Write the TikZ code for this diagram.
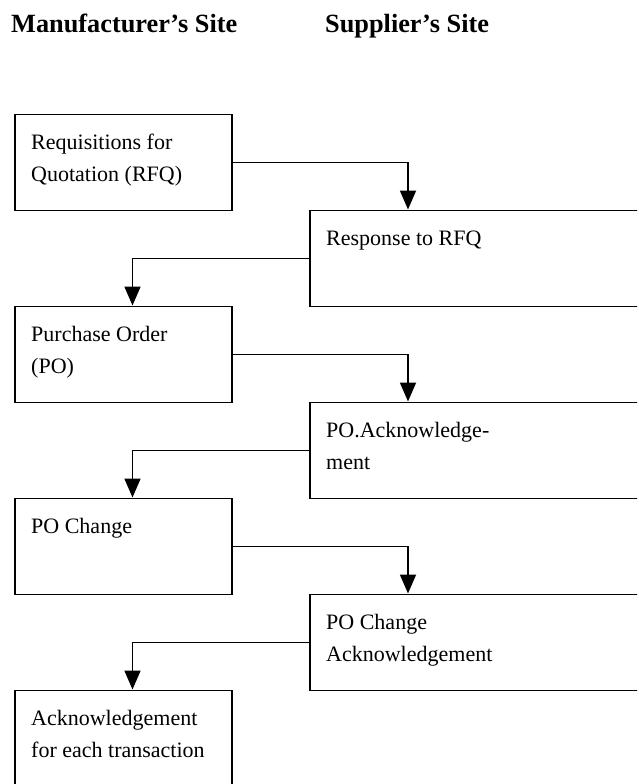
\documentclass[tikz,border=0pt]{standalone}
\usepackage{fontspec}
\setmainfont{Liberation Serif}
\usetikzlibrary{arrows.meta}
\begin{document}
\begin{tikzpicture}[x=1pt,y=-1pt,
  box/.style={draw, line width=1.8pt, minimum width=217pt, minimum height=96pt, inner sep=0, anchor=north west},
  wbox/.style={box, minimum width=360pt},
  txt/.style={anchor=north west, inner sep=0, align=left, font=\fontsize{22}{32}\selectfont},
  head/.style={anchor=base west, inner sep=0, font=\fontsize{26.3}{30}\selectfont\bfseries},
  arr/.style={line width=1.8pt, -{Triangle[length=19pt,width=16pt]}}]
\useasboundingbox (0,0) rectangle (637,784);
\clip (0,0) rectangle (637,784);
\node[head] (h1) at (11,33) {Manufacturer’s Site};
\node[head] (h2) at (325,33) {Supplier’s Site};
\node[box]  (b1) at (14,113.5) {};
\node[wbox] (b2) at (309,209.5) {};
\node[box]  (b3) at (14,305.5) {};
\node[wbox] (b4) at (309,401.5) {};
\node[box]  (b5) at (14,497.5) {};
\node[wbox] (b6) at (309,593.5) {};
\node[box]  (b7) at (14,689.5) {};
\node[txt] (t1) at (31,127) {\strut Requisitions for\\Quotation (RFQ)};
\node[txt] (t2) at (326,223) {\strut Response to RFQ};
\node[txt] (t3) at (31,319) {\strut Purchase Order\\(PO)};
\node[txt] (t4) at (326,415) {\strut PO.Acknowledge-\\ment};
\node[txt] (t5) at (31,511) {\strut PO Change};
\node[txt] (t6) at (326,607) {\strut PO Change\\Acknowledgement};
\node[txt] (t7) at (31,703) {\strut Acknowledgement\\for each transaction};
\draw[arr] (b1.east) -| ([xshift=99pt]b2.north west);
\draw[arr] (b2.west) -| ([xshift=118.5pt]b3.north west);
\draw[arr] (b3.east) -| ([xshift=99pt]b4.north west);
\draw[arr] (b4.west) -| ([xshift=118.5pt]b5.north west);
\draw[arr] (b5.east) -| ([xshift=99pt]b6.north west);
\draw[arr] (b6.west) -| ([xshift=118.5pt]b7.north west);
\end{tikzpicture}
\end{document}
